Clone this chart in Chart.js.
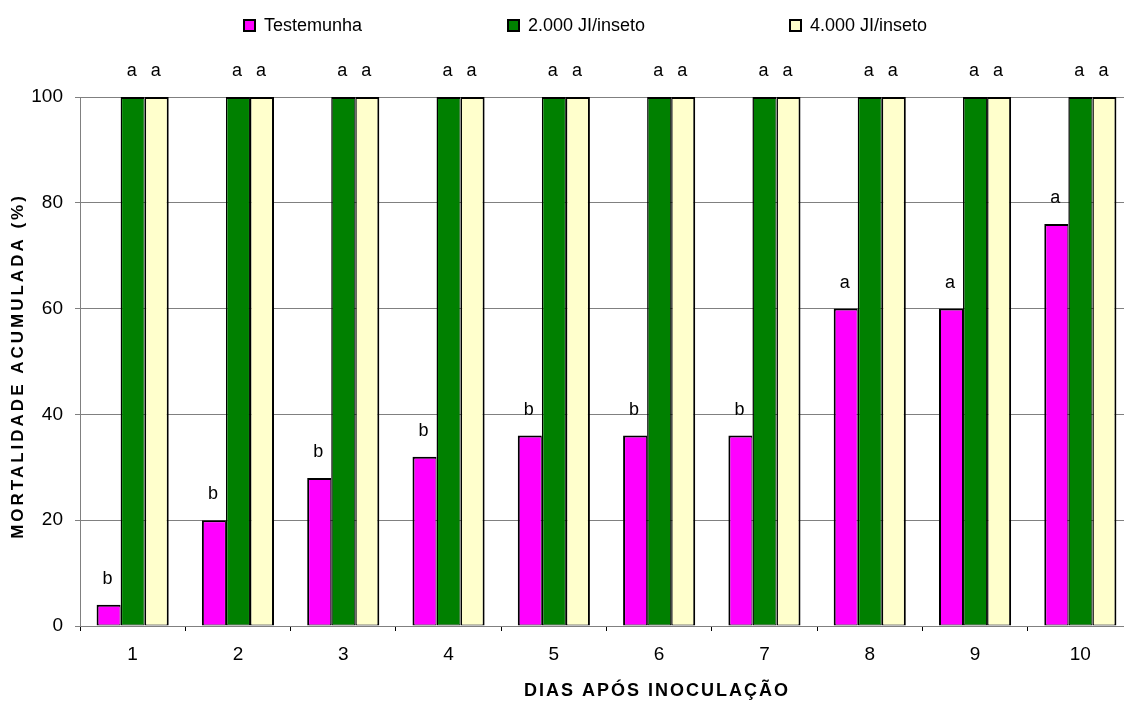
<!DOCTYPE html>
<html>
<head>
<meta charset="utf-8">
<script src="https://cdn.jsdelivr.net/npm/chart.js@4/dist/chart.umd.min.js"></script>
<style>
	body { margin: 0; background: #fff; overflow: hidden; }
	#wrap { width: 1134px; height: 702px; }
</style>
</head>
<body>
<div id="wrap"><canvas id="mortalidadeChart" width="1134" height="702"></canvas></div>
<script>
//
// data
//
var dias = ["1", "2", "3", "4", "5", "6", "7", "8", "9", "10"];
var seriesNames = ["Testemunha", "2.000 JI/inseto", "4.000 JI/inseto"];
var testemunha = [4, 20, 28, 32, 36, 36, 36, 60, 60, 76];
var dose2000 = [100, 100, 100, 100, 100, 100, 100, 100, 100, 100];
var dose4000 = [100, 100, 100, 100, 100, 100, 100, 100, 100, 100];
var letrasTestemunha = ["b", "b", "b", "b", "b", "b", "b", "a", "a", "a"];
var letras2000 = ["a", "a", "a", "a", "a", "a", "a", "a", "a", "a"];
var letras4000 = ["a", "a", "a", "a", "a", "a", "a", "a", "a", "a"];
var yTicks = [0, 20, 40, 60, 80, 100];

var FONT = "'Liberation Sans', Arial, sans-serif";
var letras = [letrasTestemunha, letras2000, letras4000];
var legendX = [244, 508, 790];

// letters above each bar
var letrasPlugin = {
	id: "letras",
	afterDatasetsDraw: function(chart) {
		var ctx = chart.ctx;
		ctx.save();
		ctx.font = "18px " + FONT;
		ctx.fillStyle = "#000";
		ctx.textAlign = "center";
		ctx.textBaseline = "alphabetic";
		chart.data.datasets.forEach(function(ds, d) {
			var meta = chart.getDatasetMeta(d);
			meta.data.forEach(function(bar, i) {
				ctx.fillText(letras[d][i], bar.x - 1, bar.y - 21);
			});
		});
		ctx.restore();
	}
};

// legend + axis titles drawn by hand (positions of the original)
var extrasPlugin = {
	id: "extras",
	afterDraw: function(chart) {
		var ctx = chart.ctx;
		ctx.save();
		ctx.font = "18px " + FONT;
		ctx.textBaseline = "middle";
		chart.data.datasets.forEach(function(ds, d) {
			var x = legendX[d];
			ctx.fillStyle = ds.backgroundColor;
			ctx.fillRect(x, 20, 11, 11);
			ctx.lineWidth = 2;
			ctx.strokeStyle = "#000";
			ctx.strokeRect(x, 20, 11, 11);
			ctx.fillStyle = "#000";
			ctx.textAlign = "left";
			ctx.fillText(ds.label, x + 20, 26);
		});

		ctx.font = "bold 18px " + FONT;
		ctx.letterSpacing = "2px";
		ctx.textAlign = "center";
		ctx.fillText("DIAS APÓS INOCULAÇÃO", 657, 691);

		ctx.font = "bold 17px " + FONT;
		ctx.letterSpacing = "3px";
		ctx.translate(18, 366);
		ctx.rotate(-Math.PI / 2);
		ctx.fillText("MORTALIDADE ACUMULADA (%)", 0, 0);
		ctx.restore();
	}
};

// neighbouring bars share one 2px line, like the original
function makeDataset(label, values, color, leftW, rightW) {
	return {
		label: label,
		data: values,
		backgroundColor: color,
		borderColor: "#000",
		borderWidth: { left: leftW, right: rightW, top: 2, bottom: 1 },
		borderSkipped: false,
		categoryPercentage: 0.685,
		barPercentage: 1.0
	};
}

var ctx = document.getElementById("mortalidadeChart");

var myBarChart = new Chart(ctx, {
	type: "bar",
	data: {
		labels: dias,
		datasets: [
			makeDataset(seriesNames[0], testemunha, "#FF00FF", 2, 1),
			makeDataset(seriesNames[1], dose2000, "#008000", 1.5, 1),
			makeDataset(seriesNames[2], dose4000, "#FFFFCC", 1.5, 2)
		]
	},
	options: {
		responsive: false,
		animation: false,
		layout: { padding: { top: 97, right: 1, left: 0, bottom: 0 } },
		plugins: {
			legend: { display: false },
			tooltip: { enabled: false }
		},
		scales: {
			x: {
				afterFit: function(scale) { scale.height = 76; },
				grid: {
					offset: true,
					drawOnChartArea: false,
					tickLength: 5,
					color: "#000"
				},
				border: { color: "#808080", width: 1 },
				ticks: {
					font: { family: FONT, size: 19 },
					color: "#000",
					padding: 12
				}
			},
			y: {
				min: 0,
				max: 100,
				afterFit: function(scale) { scale.width = 80; },
				afterBuildTicks: function(scale) {
					scale.ticks = yTicks.map(function(v) { return { value: v }; });
				},
				grid: {
					color: "#808080",
					tickLength: 5,
					lineWidth: 1
				},
				border: { color: "#808080", width: 1 },
				ticks: {
					font: { family: FONT, size: 19 },
					color: "#000",
					padding: 12
				}
			}
		}
	},
	plugins: [letrasPlugin, extrasPlugin]
});
</script>
</body>
</html>
